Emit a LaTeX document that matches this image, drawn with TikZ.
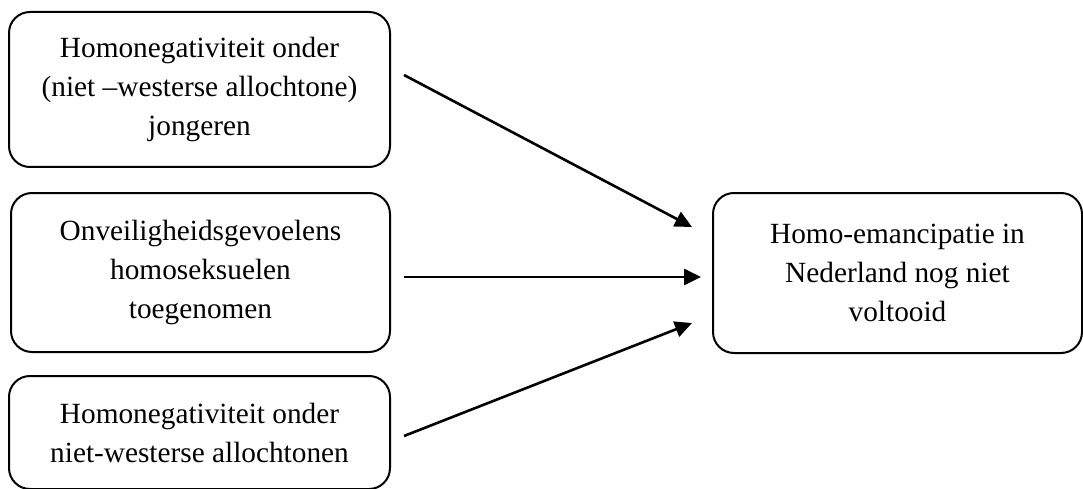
\documentclass[tikz,border=0pt]{standalone}
\usepackage{fontspec}
\setmainfont{Liberation Serif}
\usetikzlibrary{arrows.meta}
\begin{document}
\begin{tikzpicture}[x=1pt,y=-1pt,
  box/.style={draw=black, line width=2pt, rounded corners=21pt, inner sep=0pt,
    align=center, font=\fontsize{29.3}{39}\selectfont},
  arr/.style={line width=2.6pt, -{Triangle[length=17pt,width=16pt]}}]
\useasboundingbox (0,0) rectangle (1083,489);
\node[box, minimum width=381pt, minimum height=155pt] (b1) at (199.5,89.5)
  {Homonegativiteit onder\\(niet –westerse allochtone)\\jongeren};
\node[box, minimum width=379pt, minimum height=159pt] (b2) at (200.5,272.5)
  {Onveiligheidsgevoelens\\homoseksuelen\\toegenomen};
\node[box, minimum width=381pt, minimum height=113pt] (b3) at (199.5,432.5)
  {Homonegativiteit onder\\niet-westerse allochtonen};
\node[box, minimum width=369pt, minimum height=160pt] (r) at (897.5,273)
  {Homo-emancipatie in\\Nederland nog niet\\voltooid};
\coordinate (s1) at (404,75);
\coordinate (e1) at (692,227);
\coordinate (s2) at (404,277);
\coordinate (e2) at (701,277);
\coordinate (s3) at (404,436);
\coordinate (e3) at (692,323);
\draw[arr] (s1) -- (e1);
\draw[arr] (s2) -- (e2);
\draw[arr] (s3) -- (e3);
\end{tikzpicture}
\end{document}
